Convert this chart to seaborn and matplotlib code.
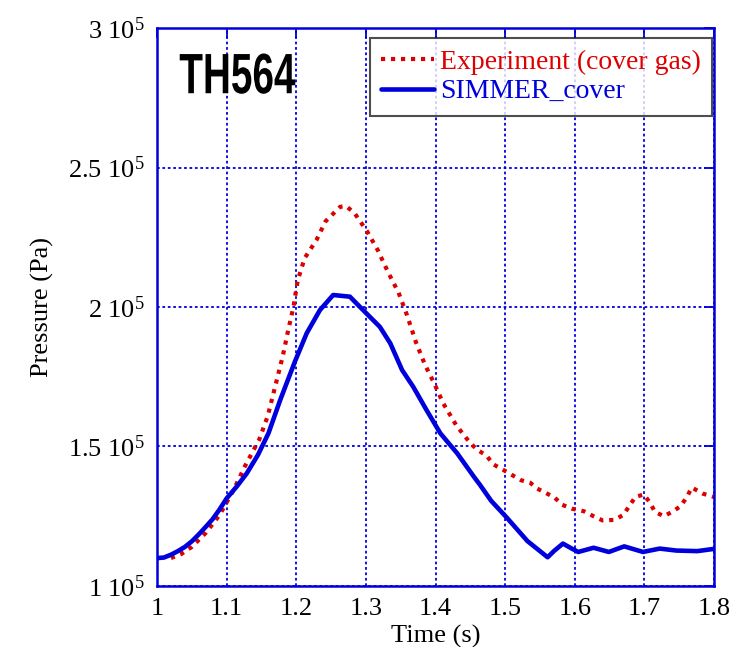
import seaborn as sns
import matplotlib.pyplot as plt
import pandas as pd
from matplotlib.patheffects import AbstractPathEffect
from matplotlib.transforms import Affine2D

# experiment (cover gas) - red dotted
exp_time = [1.020, 1.035, 1.050, 1.070, 1.090, 1.110, 1.126, 1.147, 1.159, 1.172,
            1.181, 1.188, 1.196, 1.202, 1.212, 1.229, 1.242, 1.263, 1.271, 1.283,
            1.302, 1.317, 1.332, 1.347, 1.359, 1.372, 1.385, 1.398, 1.411, 1.430,
            1.450, 1.460, 1.473, 1.483, 1.496, 1.509, 1.523, 1.536, 1.546, 1.558,
            1.571, 1.582, 1.596, 1.613, 1.627, 1.640, 1.657, 1.670, 1.678, 1.687,
            1.699, 1.708, 1.715, 1.728, 1.740, 1.752, 1.761, 1.768, 1.784, 1.800]
exp_pressure = [1.100, 1.115, 1.140, 1.190, 1.255, 1.344, 1.428, 1.526, 1.609, 1.738,
                1.828, 1.912, 2.001, 2.094, 2.175, 2.240, 2.307, 2.359, 2.362, 2.339,
                2.270, 2.204, 2.124, 2.051, 1.971, 1.873, 1.792, 1.727, 1.655, 1.575,
                1.512, 1.488, 1.468, 1.436, 1.418, 1.399, 1.379, 1.370, 1.349, 1.334,
                1.317, 1.291, 1.277, 1.268, 1.250, 1.235, 1.237, 1.255, 1.286, 1.319,
                1.328, 1.299, 1.266, 1.250, 1.266, 1.286, 1.319, 1.353, 1.331, 1.319]

# SIMMER_cover - blue solid
sim_time = [1.000, 1.010, 1.020, 1.030, 1.040, 1.050, 1.060, 1.070, 1.080, 1.090,
            1.100, 1.115, 1.129, 1.145, 1.160, 1.177, 1.198, 1.215, 1.234, 1.253,
            1.265, 1.277, 1.296, 1.320, 1.335, 1.352, 1.368, 1.387, 1.407, 1.431,
            1.455, 1.464, 1.480, 1.502, 1.532, 1.561, 1.570, 1.583, 1.595, 1.605,
            1.627, 1.649, 1.671, 1.698, 1.722, 1.746, 1.776, 1.800]
sim_pressure = [1.100, 1.102, 1.112, 1.125, 1.140, 1.160, 1.185, 1.212, 1.240, 1.275,
                1.314, 1.358, 1.404, 1.470, 1.547, 1.667, 1.804, 1.906, 1.989, 2.043,
                2.040, 2.037, 1.989, 1.929, 1.870, 1.774, 1.714, 1.631, 1.547, 1.476,
                1.392, 1.362, 1.305, 1.246, 1.161, 1.103, 1.125, 1.152, 1.135, 1.122,
                1.137, 1.122, 1.142, 1.122, 1.134, 1.127, 1.125, 1.133]

x_ticks = [1.0, 1.1, 1.2, 1.3, 1.4, 1.5, 1.6, 1.7, 1.8]
x_ticklabels = ['1', '1.1', '1.2', '1.3', '1.4', '1.5', '1.6', '1.7', '1.8']
y_ticks = [1.0e5, 1.5e5, 2.0e5, 2.5e5, 3.0e5]
y_ticklabels = ['1 10$^5$', '1.5 10$^5$', '2 10$^5$', '2.5 10$^5$', '3 10$^5$']

exp_df = pd.DataFrame({'time': exp_time, 'pressure': [p * 1e5 for p in exp_pressure]})
sim_df = pd.DataFrame({'time': sim_time, 'pressure': [p * 1e5 for p in sim_pressure]})


class Squeeze(AbstractPathEffect):
    """Narrows the glyphs horizontally around the text's left edge (condensed look)."""

    def __init__(self, text, sx):
        super().__init__()
        self.text = text
        self.sx = sx

    def draw_path(self, renderer, gc, tpath, affine, rgbFace=None):
        x0 = self.text.get_window_extent(renderer).x0
        squeeze = Affine2D().translate(-x0, 0).scale(self.sx, 1).translate(x0, 0)
        renderer.draw_path(gc, tpath, affine + squeeze, rgbFace)


sns.set_style('white')
plt.rcParams['font.family'] = ['Liberation Serif', 'DejaVu Serif']
plt.rcParams['mathtext.fontset'] = 'custom'
plt.rcParams['mathtext.rm'] = 'Liberation Serif'
plt.rcParams['mathtext.it'] = 'Liberation Serif:italic'
plt.rcParams['text.color'] = 'black'
plt.rcParams['axes.labelcolor'] = 'black'

BLUE = '#0000dd'
RED = '#dd0000'

fig = plt.figure(figsize=(7.34, 6.47), dpi=100)
ax = fig.add_axes([0.2139, 0.0943, 0.7589, 0.8624])

sns.lineplot(data=exp_df, x='time', y='pressure', ax=ax, color=RED, lw=3.0,
             linestyle=(0, (1, 1.4)), label='Experiment (cover gas)')
sns.lineplot(data=sim_df, x='time', y='pressure', ax=ax, color=BLUE, lw=3.3,
             label='SIMMER_cover')

ax.set_xlim(1.0, 1.8)
ax.set_ylim(1.0e5, 3.0e5)
ax.set_xticks(x_ticks)
ax.set_xticklabels(x_ticklabels)
ax.set_yticks(y_ticks)
ax.set_yticklabels(y_ticklabels)
ax.grid(True, color=BLUE, linestyle=(0, (1.5, 1.5)), linewidth=1.3)
ax.tick_params(direction='in', length=7, width=1.3, color=BLUE, labelsize=19,
               top=True, right=True, pad=9, labelcolor='black')
for s in ax.spines.values():
    s.set_color(BLUE)
    s.set_linewidth(1.8)

ax.set_xlabel('Time (s)', fontsize=19, labelpad=3)
ax.set_ylabel('Pressure (Pa)', fontsize=19, labelpad=10)

title = ax.text(0.04, 0.91, 'TH564', transform=ax.transAxes, fontsize=41, fontweight='bold',
                family=['Liberation Sans', 'DejaVu Sans'], color='black',
                va='center', ha='left')
title.set_path_effects([Squeeze(title, 0.68)])

leg = ax.legend(loc='upper right', bbox_to_anchor=(0.997, 0.983), borderaxespad=0,
                fontsize=20, frameon=True, fancybox=False, edgecolor='#222222',
                labelcolor='linecolor', handlelength=1.9, handletextpad=0.2,
                labelspacing=0.15, borderpad=0.42)
leg.get_frame().set_linewidth(1.5)

fig.savefig('out.png', dpi=100)
